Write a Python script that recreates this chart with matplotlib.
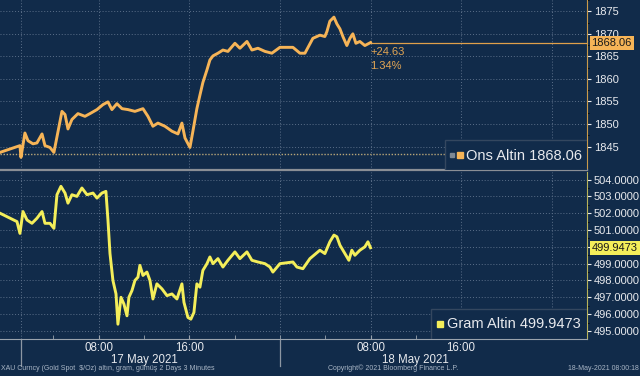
import matplotlib
matplotlib.use("Agg")
import matplotlib.pyplot as plt
from matplotlib.patches import Rectangle
from matplotlib.transforms import blended_transform_factory as btf

plt.rcParams['font.family'] = ['Liberation Sans', 'DejaVu Sans']

# ---------------- data ----------------
ons_hours = [-0.71, 1.05, 1.14, 1.49, 1.76, 2.20, 2.55, 3.00, 3.26, 3.70, 4.05, 4.76, 5.03,
             5.29, 5.64, 6.17, 6.79, 7.23, 7.85, 8.38, 8.82, 9.17, 9.61, 10.06, 10.58, 11.20,
             11.91, 12.35, 12.79, 13.23, 13.85, 14.47, 15.00, 15.35, 15.62, 16.06, 16.32, 16.67,
             16.94, 17.20, 17.56, 17.82, 18.09, 18.53, 18.97, 19.41, 20.03, 20.47, 21.09, 21.53,
             22.06, 22.68, 23.29, 24.00, 25.15, 25.77, 26.21, 26.91, 27.53, 27.97, 28.15, 28.41,
             28.77, 29.03, 29.30, 29.56, 29.91, 30.18, 30.44, 30.71, 31.06, 31.50, 32.00]
ons_values = [1843.7, 1845.2, 1842.6, 1848.0, 1846.3, 1845.6, 1845.8, 1847.8, 1845.2, 1844.8,
              1843.7, 1852.8, 1852.1, 1848.9, 1851.0, 1852.3, 1851.7, 1852.3, 1853.2, 1854.3,
              1854.9, 1853.2, 1854.5, 1853.4, 1853.2, 1852.8, 1853.4, 1851.7, 1849.5, 1850.2,
              1849.5, 1848.4, 1847.8, 1850.2, 1846.9, 1844.8, 1848.4, 1853.4, 1856.4, 1859.2,
              1862.0, 1864.2, 1865.1, 1865.7, 1866.4, 1866.1, 1867.9, 1866.8, 1868.3, 1866.4,
              1866.8, 1866.1, 1865.7, 1867.0, 1867.0, 1865.7, 1865.7, 1869.0, 1869.7, 1869.4,
              1870.5, 1872.8, 1873.7, 1872.2, 1871.1, 1869.4, 1867.4, 1869.0, 1870.0, 1867.9,
              1868.3, 1867.4, 1868.06]

gram_hours = [-0.71, 0.79, 1.05, 1.32, 1.67, 2.11, 2.55, 3.00, 3.26, 3.70, 4.05, 4.32, 4.67,
              5.03, 5.29, 5.64, 6.08, 6.52, 6.97, 7.50, 7.85, 8.29, 8.64, 8.82, 9.00, 9.26,
              9.53, 9.70, 9.97, 10.23, 10.50, 10.67, 10.94, 11.20, 11.47, 11.64, 11.91, 12.26,
              12.53, 12.79, 13.14, 13.59, 14.03, 14.47, 14.91, 15.35, 15.53, 15.88, 16.14,
              16.41, 16.67, 16.94, 17.20, 17.56, 17.82, 18.09, 18.53, 18.97, 19.41, 20.03,
              20.47, 21.09, 21.53, 22.06, 22.68, 23.12, 23.38, 24.00, 25.15, 25.50, 26.03,
              26.65, 27.53, 27.97, 28.41, 28.77, 29.03, 29.30, 29.74, 30.09, 30.35, 30.62,
              31.06, 31.50, 31.77, 32.00]
gram_values = [502.0, 501.5, 500.8, 502.1, 501.6, 501.4, 501.7, 502.1, 501.4, 501.4, 501.1,
               503.1, 503.6, 503.2, 502.6, 503.1, 503.0, 503.5, 503.1, 503.2, 502.9, 503.2,
               503.3, 501.6, 499.6, 498.0, 497.2, 495.4, 497.0, 496.6, 495.9, 497.0, 497.4,
               498.0, 498.2, 498.9, 498.3, 498.5, 498.0, 496.9, 497.8, 497.5, 497.1, 497.2,
               496.9, 497.8, 496.7, 495.8, 495.7, 496.1, 497.8, 497.6, 498.6, 499.0, 499.4,
               499.0, 499.3, 498.8, 499.2, 499.7, 499.3, 499.7, 499.2, 499.1, 499.0, 498.8,
               498.5, 499.0, 499.1, 498.8, 498.7, 499.3, 499.8, 499.6, 500.3, 500.7, 500.6,
               500.1, 499.6, 499.2, 499.8, 499.5, 499.8, 500.0, 500.3, 499.9473]

ons_last = 1868.06
ons_change = 24.63
ons_pct = 1.34
gram_last = 499.9473
ons_ticks = [1845, 1850, 1855, 1860, 1865, 1870, 1875]
gram_ticks = [495, 496, 497, 498, 499, 500, 501, 502, 503, 504]
gram_tick_labels = ['495.0000', '496.0000', '497.0000', '498.0000', '499.0000', '', '501.0000',
                    '502.0000', '503.0000', '504.0000']
time_ticks = [8, 16, 32, 40]
time_labels = ['08:00', '16:00', '08:00', '16:00']
grid_hours = [1.14, 8, 16, 24, 32, 40, 48]
day_break_hours = [1.14, 24]
day_labels = ['17 May 2021', '18 May 2021']
day_label_hours = [12, 36]

# ---------------- style ----------------
BG = '#112b4a'
ORANGE = '#f6b457'
YELLOW = '#f4ee5a'
GRID = '#5b6f89'
TXT = '#e8eaee'

fig = plt.figure(figsize=(6.4, 3.76), dpi=100, facecolor=BG)
ax1 = fig.add_axes([0, 0.5479, 0.917, 0.4521], facecolor=BG)
ax2 = fig.add_axes([0, 0.0984, 0.917, 0.4441], facecolor=BG)

xmin, xmax = -0.71, 51.1
for ax in (ax1, ax2):
    ax.set_xlim(xmin, xmax)
    ax.yaxis.tick_right()
    ax.spines['left'].set_visible(False)
    ax.spines['top'].set_visible(False)
    for h in grid_hours:
        ax.axvline(h, color=GRID, lw=0.7, ls=(0, (1, 2)), zorder=1)
    ax.tick_params(axis='y', colors=TXT, labelsize=8, length=3, pad=2, direction='out')
    ax.tick_params(axis='y', which='minor', length=1.5)

# top panel
ax1.set_ylim(1839.8, 1876.5)
ax1.set_yticks(ons_ticks)
ax1.set_yticks([t + 2.5 for t in ons_ticks], minor=True)
for t in ons_ticks:
    ax1.axhline(t, color=GRID, lw=0.7, ls=(0, (1, 2)), zorder=1)
ax1.set_xticks([])
ax1.spines['right'].set_color('#c99a4a')
ax1.spines['bottom'].set_color('#8a8f96')
ax1.spines['bottom'].set_linewidth(1.6)
ax1.plot(ons_hours, ons_values, color=ORANGE, lw=2.1, zorder=4, solid_joinstyle='round')
ax1.axhline(ons_last - ons_change, color='#b8a678', lw=1.0, ls=(0, (1, 1.2)), zorder=2)
ax1.plot([ons_hours[-1], xmax], [ons_last, ons_last], color='#e0a04a', lw=0.9, zorder=3)
ax1.text(1.008, ons_last, f'{ons_last:.2f}', transform=btf(ax1.transAxes, ax1.transData),
         ha='left', va='center', fontsize=8, color='#1a1a1a', clip_on=False, zorder=10,
         bbox=dict(boxstyle='square,pad=0.18', fc=ORANGE, ec='none'))
ax1.annotate(f'+{ons_change:.2f}', xy=(ons_hours[-1], ons_last), xytext=(0, -9),
             textcoords='offset pixels', ha='left', va='center', fontsize=8, color='#e3a654')
ax1.annotate(f'{ons_pct:.2f}%', xy=(ons_hours[-1], ons_last), xytext=(0, -23),
             textcoords='offset pixels', ha='left', va='center', fontsize=8, color='#e3a654')
ax1.add_patch(Rectangle((0.758, 0.0), 0.242, 0.176, transform=ax1.transAxes, fc=BG,
                        ec='#34475f', lw=1.0, zorder=6))
ax1.plot([0.771], [0.088], marker='s', ms=3, color='#7d8894', transform=ax1.transAxes, zorder=7)
ax1.plot([0.783], [0.088], marker='s', ms=5, color=ORANGE, transform=ax1.transAxes, zorder=7)
ax1.text(0.794, 0.085, f'Ons Altin {ons_last:.2f}', transform=ax1.transAxes, ha='left',
         va='center', fontsize=10.5, color=TXT, zorder=7)

# bottom panel
ax2.set_ylim(494.52, 504.45)
ax2.set_yticks(gram_ticks)
ax2.set_yticklabels(gram_tick_labels)
ax2.set_yticks([t + 0.5 for t in gram_ticks[:-1]], minor=True)
for t in gram_ticks:
    ax2.axhline(t, color=GRID, lw=0.7, ls=(0, (1, 2)), zorder=1)
ax2.spines['right'].set_color('#b8b35a')
ax2.spines['bottom'].set_color('#9aa3ad')
ax2.set_xticks(time_ticks)
ax2.set_xticklabels(time_labels)
ax2.set_xticks([4 * i for i in range(1, 13)], minor=True)
ax2.tick_params(axis='x', which='both', colors='#9aa3ad', labelcolor=TXT, labelsize=8.3,
                length=3, direction='in', pad=2)
ax2.plot(gram_hours, gram_values, color=YELLOW, lw=2.1, zorder=4, solid_joinstyle='round')
ax2.text(1.008, gram_last, f'{gram_last:.4f}', transform=btf(ax2.transAxes, ax2.transData),
         ha='left', va='center', fontsize=8, color='#1a1a1a', clip_on=False, zorder=10,
         bbox=dict(boxstyle='square,pad=0.18', fc=YELLOW, ec='none'))
for h in day_break_hours:
    ax2.plot([h, h], [-0.16, 0.0], transform=btf(ax2.transData, ax2.transAxes),
             color='#8d97a3', lw=0.9, clip_on=False, zorder=2)
for h, lab in zip(day_label_hours, day_labels):
    ax2.text(h, -0.126, lab, transform=btf(ax2.transData, ax2.transAxes), ha='center',
             va='center', fontsize=8.3, color=TXT)
ax2.add_patch(Rectangle((0.734, 0.0), 0.266, 0.18, transform=ax2.transAxes, fc=BG,
                        ec='#34475f', lw=1.0, zorder=6))
ax2.plot([0.75], [0.09], marker='s', ms=5, color=YELLOW, transform=ax2.transAxes, zorder=7)
ax2.text(0.761, 0.087, f'Gram Altin {gram_last:.4f}', transform=ax2.transAxes, ha='left',
         va='center', fontsize=10.5, color=TXT, zorder=7)

# footer
fig.text(0.002, 0.01, 'XAU Curncy (Gold Spot  $/Oz) altın, gram, gümüş 2 Days 3 Minutes',
         fontsize=5, color='#a9b6c6', ha='left', va='bottom')
fig.text(0.512, 0.01, 'Copyright© 2021 Bloomberg Finance L.P.', fontsize=5, color='#a9b6c6',
         ha='left', va='bottom')
fig.text(0.998, 0.01, '18-May-2021 08:00:18', fontsize=5, color='#a9b6c6', ha='right',
         va='bottom')

fig.savefig('out.png', dpi=100, facecolor=BG)
